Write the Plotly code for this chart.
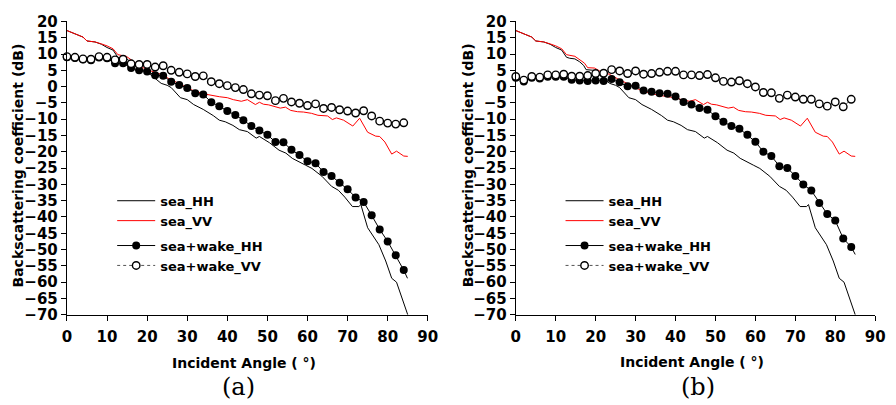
import plotly.graph_objects as go

# ---- sea-only backscatter (same for both cases) ----
sea_vv_angle = [0, 2, 4, 5, 7, 8.6, 10, 11.5, 12.7, 14.8, 16, 17.2, 18, 19.7, 21, 23.4, 25.5,
                27.5, 29, 31.6, 34.9, 38, 40, 41.5, 43.5, 45, 47, 48, 49, 50.3, 52, 53.2, 54.5,
                55.8, 57.5, 59, 61, 62.6, 65, 66.2, 67.2, 69, 71.3, 73, 75, 77, 78, 79.3, 81,
                82.2, 84, 85]
sea_vv = [17.2, 16.2, 15.2, 14.0, 13.7, 13.1, 12.5, 11.6, 9.8, 9.3, 8.2, 7.2, 5.8, 5.7, 4.8,
          3.8, 2.4, 1.3, 0.3, -1.3, -2.4, -3.1, -3.4, -4.0, -4.5, -4.0, -5.5, -4.8, -5.4, -5.6,
          -6.2, -6.6, -6.3, -7.3, -7.7, -7.8, -8.2, -8.8, -9.0, -10.1, -9.6, -10.3, -12.1,
          -9.7, -14.0, -15.2, -15.3, -17.0, -20.7, -19.8, -21.3, -21.4]

sea_hh_angle = [0, 2, 4, 5, 7, 8.6, 10, 11.5, 12.7, 13.5, 14.8, 16, 17, 17.6, 19.5, 21.7, 23.5,
                25, 26, 28.3, 30, 31.6, 34, 36.5, 38, 39.5, 41.4, 43, 45, 47.2, 48, 50.5, 52.9,
                54.6, 56.2, 59.5, 61.1, 63.6, 66, 67.7, 69.3, 71.2, 72.8, 73.3, 75, 77.8, 79.5,
                81, 82.2, 85]
sea_hh = [17.2, 16.2, 15.2, 14.0, 13.7, 13.0, 12.0, 11.2, 9.0, 8.7, 8.5, 7.6, 6.5, 5.2, 5.0,
          2.8, 1.0, 0.4, -0.3, -3.4, -4.0, -5.5, -7.0, -8.9, -10.3, -10.8, -11.9, -13.2, -13.8,
          -15.8, -15.3, -17.2, -19.5, -20.4, -22.0, -24.1, -25.1, -27.5, -30.6, -31.8, -33.9,
          -36.8, -36.8, -36.2, -43.3, -48.5, -53.5, -58.8, -60.0, -70.0]

# ---- sea + wake, sampled every 2 degrees ----
wake_angle = list(range(0, 85, 2))

wake_hh_a = [9.0, 8.8, 8.3, 8.1, 8.9, 8.7, 7.2, 7.2, 5.7, 5.0, 4.6, 3.5, 3.3, 1.5, 0.5, -0.4,
             -2.0, -2.4, -4.8, -6.0, -7.5, -8.7, -10.3, -12.1, -13.5, -14.8, -17.0, -17.1,
             -19.4, -21.0, -22.9, -23.5, -26.2, -27.4, -29.5, -31.5, -34.0, -35.4, -39.5,
             -43.8, -47.5, -51.7, -56.3]
wake_vv_a = [9.2, 9.0, 8.5, 8.4, 9.2, 9.0, 8.2, 8.4, 7.0, 6.8, 6.8, 6.0, 6.4, 5.0, 4.4, 3.9,
             3.1, 3.3, 1.5, 0.9, 0.3, -0.3, -0.9, -2.2, -2.6, -2.8, -4.3, -3.6, -4.7, -5.1,
             -5.8, -5.3, -6.7, -6.4, -7.1, -7.5, -8.1, -7.4, -9.0, -10.6, -11.2, -11.5, -11.1]
wake_hh_a_end = -59.0

wake_hh_b = [2.7, 1.6, 2.7, 2.5, 3.0, 3.0, 3.0, 2.1, 1.9, 1.7, 1.9, 1.7, 2.3, 1.3, 0.1, 0.3,
             -1.2, -1.6, -2.0, -2.2, -3.0, -4.7, -5.5, -6.6, -7.1, -9.1, -10.8, -12.1, -12.9,
             -14.8, -16.9, -20.0, -21.3, -24.4, -25.0, -27.4, -30.0, -31.9, -35.7, -39.1,
             -41.1, -46.6, -49.2]
wake_vv_b = [3.1, 2.0, 3.1, 2.9, 3.6, 3.6, 3.8, 3.2, 3.2, 3.4, 4.0, 4.1, 5.2, 4.8, 4.0, 4.8,
             3.8, 4.0, 4.4, 4.7, 4.7, 3.6, 3.6, 3.4, 3.7, 2.7, 1.6, 1.4, 1.8, 0.9, -0.1, -1.8,
             -1.9, -3.6, -2.6, -3.2, -3.9, -3.9, -5.3, -6.0, -4.7, -6.2, -3.9]
wake_hh_b_end = -51.5
end_angle = 85

x_ticks = list(range(0, 91, 10))
y_ticks = list(range(-70, 21, 5))

SANS = "DejaVu Sans"
fig = go.Figure()


def add_panel(xa, ya, legend, hh_wake, vv_wake, hh_end):
    fig.add_trace(go.Scatter(x=sea_hh_angle, y=sea_hh, mode="lines", name="sea_HH",
                             line=dict(color="black", width=1), xaxis=xa, yaxis=ya,
                             legend=legend, legendgroup="sea"))
    fig.add_trace(go.Scatter(x=sea_vv_angle, y=sea_vv, mode="lines", name="sea_VV",
                             line=dict(color="#ff0000", width=1), xaxis=xa, yaxis=ya,
                             legend=legend, legendgroup="sea"))
    # tail of the wake HH curve past the last marker
    fig.add_trace(go.Scatter(x=[wake_angle[-1], end_angle], y=[hh_wake[-1], hh_end],
                             mode="lines", line=dict(color="black", width=1, dash="dash"),
                             xaxis=xa, yaxis=ya, showlegend=False, hoverinfo="skip"))
    fig.add_trace(go.Scatter(x=wake_angle, y=hh_wake, mode="lines+markers", name="sea+wake_HH",
                             line=dict(color="black", width=1),
                             marker=dict(symbol="circle", size=8, color="black"),
                             xaxis=xa, yaxis=ya, legend=legend, legendgroup="wake",
                             cliponaxis=False))
    fig.add_trace(go.Scatter(x=wake_angle, y=vv_wake, mode="lines+markers", name="sea+wake_VV",
                             line=dict(color="#555555", width=1, dash="dot"),
                             marker=dict(symbol="circle", size=7.5, color="white",
                                         line=dict(color="black", width=1.4)),
                             xaxis=xa, yaxis=ya, legend=legend, legendgroup="wake",
                             cliponaxis=False))


add_panel("x", "y", "legend", wake_hh_a, wake_vv_a, wake_hh_a_end)
add_panel("x2", "y2", "legend2", wake_hh_b, wake_vv_b, wake_hh_b_end)

W, H = 896, 405
ydom = [(H - 320) / H, (H - 13) / H]
axis_common = dict(showgrid=False, zeroline=False, showline=True, linecolor="black",
                   linewidth=1.3, ticks="outside", ticklen=5, tickwidth=1.2,
                   tickcolor="black", mirror=False,
                   tickfont=dict(family=SANS, size=15, color="black", weight="bold"))

legend_common = dict(xanchor="left", yanchor="top", bgcolor="rgba(0,0,0,0)",
                     traceorder="grouped", tracegroupgap=5, itemwidth=38,
                     font=dict(family=SANS, size=13, color="black", weight="bold"))

fig.update_layout(
    width=W, height=H, margin=dict(l=0, r=0, t=0, b=0),
    paper_bgcolor="white", plot_bgcolor="white",
    xaxis=dict(domain=[63 / W, 430 / W], range=[0, 90], tickvals=x_ticks, anchor="y",
               ticklabelstandoff=3, **axis_common),
    yaxis=dict(domain=ydom, range=[-70, 20], tickvals=y_ticks, anchor="x", **axis_common),
    xaxis2=dict(domain=[519.5 / W, 885 / W], range=[0, 90], tickvals=x_ticks, anchor="y2",
                ticklabelstandoff=3, **axis_common),
    yaxis2=dict(domain=ydom, range=[-70, 20], tickvals=y_ticks, anchor="x2", **axis_common),
    legend=dict(x=109 / W, y=(H - 185) / H, **legend_common),
    legend2=dict(x=565 / W, y=(H - 185) / H, **legend_common),
    showlegend=True,
)

title_font = dict(family=SANS, size=14, color="black", weight="bold")
ann = []
for xc, ytc in [(13.5, 163.5), (471, 163.5)]:
    ann.append(dict(text="Backscattering coefficient (dB)", x=xc / W, y=(H - ytc) / H,
                    xref="paper", yref="paper", showarrow=False, textangle=-90,
                    font=title_font, xanchor="center", yanchor="middle"))
for xc, yc in [(243, 370), (699, 369)]:
    ann.append(dict(text="Incident Angle ( °)", x=xc / W, y=(H - yc) / H, xref="paper",
                    yref="paper", showarrow=False, font=title_font,
                    xanchor="center", yanchor="middle"))
for label, xc in [("(a)", 237), ("(b)", 705)]:
    ann.append(dict(text=label, x=xc / W, y=(H - 396) / H, xref="paper", yref="paper",
                    showarrow=False, xanchor="center", yanchor="middle",
                    font=dict(family="DejaVu Serif", size=24, color="black")))
fig.update_layout(annotations=ann)

fig.write_html("out.html")
